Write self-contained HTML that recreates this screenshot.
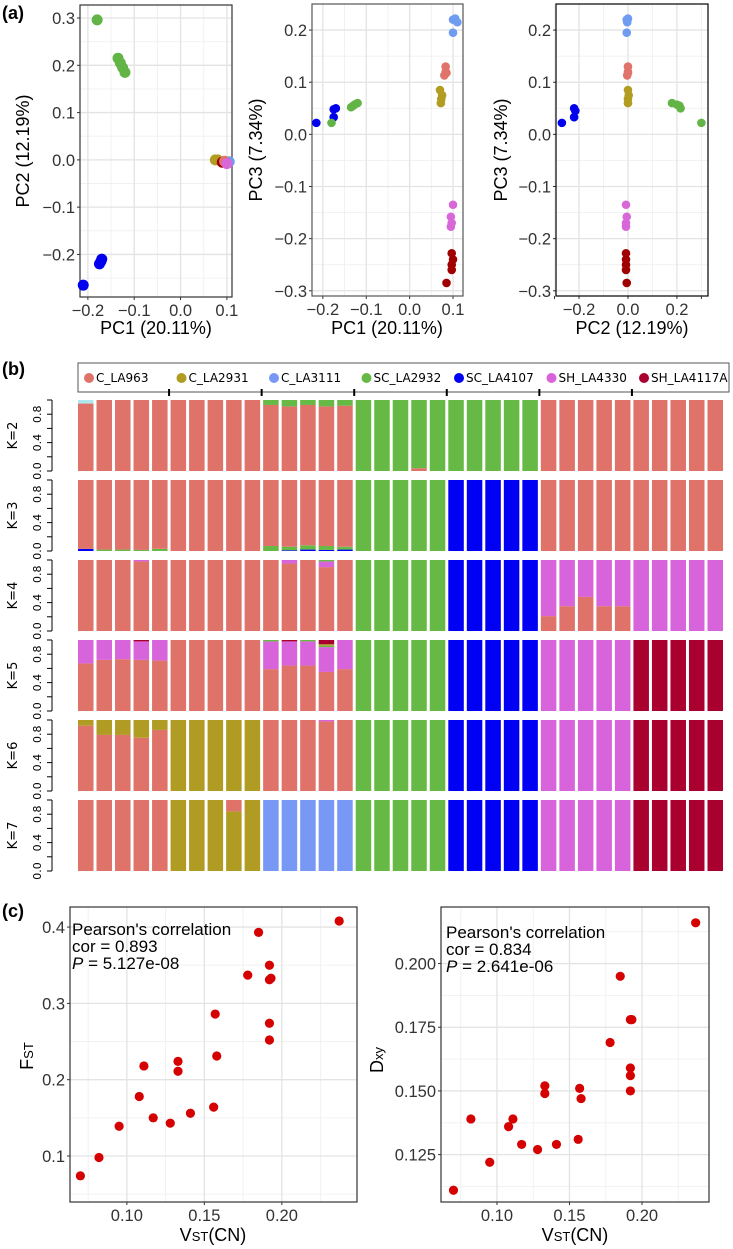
<!DOCTYPE html>
<html><head><meta charset="utf-8"><style>
html,body{margin:0;padding:0;background:#fff;}
svg{display:block;font-family:"Liberation Sans",sans-serif;}
</style></head><body>
<svg id="fig" width="733" height="1249" viewBox="0 0 733 1249" xmlns="http://www.w3.org/2000/svg"></svg>
<script>
// ---------- Panel (a) PCA data ----------
const pcaGroups = ["C_LA963","C_LA2931","C_LA3111","SC_LA2932","SC_LA4107","SH_LA4330","SH_LA4117A"];
const pc1_pc2_green = [[-0.18,0.296],[-0.135,0.215],[-0.13,0.205],[-0.125,0.195],[-0.12,0.185]];
const pc1_pc2_blue = [[-0.21,-0.265],[-0.17,-0.21],[-0.172,-0.215],[-0.175,-0.22]];
const pc1_pc2_cluster = [[0.075,0.0,1],[0.08,0.0,1],[0.09,-0.005,6],[0.105,-0.004,2],[0.095,-0.003,0],[0.1,-0.008,5]];
const pc1_pc3 = [
 [-0.215,0.022,4],[-0.175,0.048,4],[-0.17,0.05,4],[-0.175,0.033,4],
 [-0.18,0.022,3],[-0.135,0.052,3],[-0.13,0.055,3],[-0.125,0.058,3],[-0.12,0.06,3],
 [0.1,0.22,2],[0.105,0.222,2],[0.11,0.215,2],[0.1,0.195,2],
 [0.083,0.13,0],[0.083,0.12,0],[0.08,0.113,0],[0.085,0.118,0],
 [0.07,0.085,1],[0.075,0.075,1],[0.073,0.068,1],[0.072,0.06,1],
 [0.1,-0.135,5],[0.095,-0.158,5],[0.097,-0.17,5],[0.095,-0.177,5],
 [0.097,-0.228,6],[0.1,-0.24,6],[0.097,-0.25,6],[0.097,-0.26,6],[0.085,-0.285,6]];
const pc2_pc3 = [
 [-0.27,0.022,4],[-0.22,0.05,4],[-0.215,0.045,4],[-0.22,0.033,4],
 [0.18,0.06,3],[0.2,0.057,3],[0.21,0.055,3],[0.215,0.05,3],[0.3,0.022,3],
 [-0.005,0.22,2],[0.0,0.222,2],[-0.003,0.215,2],[-0.005,0.195,2],
 [0.0,0.13,0],[0.0,0.12,0],[-0.003,0.113,0],[0.0,0.118,0],
 [0.0,0.085,1],[0.003,0.075,1],[0.0,0.068,1],[0.0,0.06,1],
 [-0.008,-0.135,5],[-0.005,-0.158,5],[-0.008,-0.17,5],[-0.008,-0.177,5],
 [-0.008,-0.228,6],[-0.008,-0.24,6],[-0.008,-0.25,6],[-0.008,-0.26,6],[-0.005,-0.285,6]];
const pcaColors = ["#E0736A","#B39C22","#6F9BF0","#63B446","#0000EE","#D868D8","#A00000"];

// ---------- Panel (b) admixture data ----------
const kLabels = ["K=2","K=3","K=4","K=5","K=6","K=7"];
const clusterColors = ["#DF736A","#B09B23","#7799F5","#67B945","#0000F5","#D864DC","#AA0030","#AEE8EE"];
const kDominant = [[0,0,0,3,3,0,0],[0,0,0,3,4,0,0],[0,0,0,3,4,5,5],[0,0,0,3,4,5,6],[0,1,0,3,4,5,6],[0,1,2,3,4,5,6]];
const kExceptions = [
 [0,0,[[0,0.95],[7,0.05]]],
 [0,10,[[0,0.93],[3,0.07]]],[0,11,[[0,0.91],[3,0.09]]],[0,12,[[0,0.93],[3,0.07]]],[0,13,[[0,0.91],[3,0.09]]],[0,14,[[0,0.92],[3,0.08]]],
 [0,18,[[0,0.04],[3,0.96]]],
 [1,0,[[4,0.03],[0,0.97]]],[1,1,[[3,0.02],[0,0.98]]],[1,2,[[3,0.02],[0,0.98]]],[1,3,[[3,0.015],[0,0.985]]],[1,4,[[3,0.03],[0,0.97]]],
 [1,10,[[3,0.07],[0,0.93]]],[1,11,[[4,0.01],[3,0.05],[0,0.94]]],[1,12,[[4,0.02],[3,0.06],[0,0.92]]],[1,13,[[4,0.015],[3,0.055],[0,0.93]]],[1,14,[[4,0.02],[3,0.04],[0,0.94]]],
 [2,3,[[0,0.98],[5,0.02]]],[2,11,[[0,0.95],[5,0.05]]],[2,13,[[0,0.9],[5,0.08],[3,0.02]]],
 [2,25,[[0,0.21],[5,0.79]]],[2,26,[[0,0.35],[5,0.65]]],[2,27,[[0,0.48],[5,0.52]]],[2,28,[[0,0.35],[5,0.65]]],[2,29,[[0,0.35],[5,0.65]]],
 [3,0,[[0,0.67],[5,0.33]]],[3,1,[[0,0.72],[5,0.28]]],[3,2,[[0,0.73],[5,0.27]]],[3,3,[[0,0.72],[5,0.26],[6,0.02]]],[3,4,[[0,0.71],[5,0.29]]],
 [3,10,[[0,0.59],[5,0.39],[3,0.02]]],[3,11,[[0,0.64],[5,0.34],[6,0.02]]],[3,12,[[0,0.64],[5,0.34],[3,0.02]]],[3,13,[[0,0.55],[5,0.35],[3,0.02],[1,0.02],[6,0.06]]],[3,14,[[0,0.59],[5,0.41]]],
 [4,0,[[0,0.92],[1,0.08]]],[4,1,[[0,0.79],[1,0.21]]],[4,2,[[0,0.79],[1,0.21]]],[4,3,[[0,0.75],[1,0.25]]],[4,4,[[0,0.86],[1,0.14]]],
 [4,13,[[0,0.98],[5,0.02]]],
 [5,8,[[1,0.84],[0,0.16]]]
];
const legendNames = ["C_LA963","C_LA2931","C_LA3111","SC_LA2932","SC_LA4107","SH_LA4330","SH_LA4117A"];

// ---------- Panel (c) data ----------
const vst = [0.070,0.082,0.095,0.108,0.111,0.117,0.128,0.133,0.133,0.141,0.156,0.157,0.158,0.178,0.185,0.192,0.192,0.193,0.192,0.192,0.237];
const fst = [0.074,0.098,0.139,0.178,0.218,0.150,0.143,0.224,0.211,0.156,0.164,0.286,0.231,0.337,0.393,0.350,0.331,0.333,0.274,0.252,0.408];
const vst2 = [0.070,0.082,0.095,0.108,0.111,0.117,0.128,0.133,0.133,0.141,0.156,0.157,0.158,0.178,0.185,0.192,0.193,0.192,0.192,0.192,0.237];
const dxy = [0.111,0.139,0.122,0.136,0.139,0.129,0.127,0.152,0.149,0.129,0.131,0.151,0.147,0.169,0.195,0.178,0.178,0.159,0.156,0.150,0.216];
const fstTicks = [0.1,0.2,0.3,0.4];
const dxyTicks = [0.125,0.150,0.175,0.200];
const vstTicks = [0.10,0.15,0.20];

const NS="http://www.w3.org/2000/svg";
const svg=document.getElementById('fig');
const TICK=16.5, TITLE=18;
function mk(tag,attrs,parent,txt){const e=document.createElementNS(NS,tag);for(const k in attrs)e.setAttribute(k,attrs[k]);if(txt!==undefined)e.textContent=txt;(parent||svg).appendChild(e);return e;}
function lin(d0,d1,r0,r1){return v=>r0+(v-d0)*(r1-r0)/(d1-d0);}

function scatterPanel(name,box,xd,yd,xticks,yticks,xminor,yminor,fmtX,fmtY,border){
  const g=mk('g',{});
  
  
  const sx=lin(xd[0],xd[1],box.x0,box.x1), sy=lin(yd[0],yd[1],box.y1,box.y0);
  mk('rect',{x:box.x0,y:box.y0,width:box.x1-box.x0,height:box.y1-box.y0,fill:'#fff'},g);
  xminor.forEach(v=>mk('line',{x1:sx(v),x2:sx(v),y1:box.y0,y2:box.y1,stroke:'#f0f0f0','stroke-width':0.9},g));
  yminor.forEach(v=>mk('line',{y1:sy(v),y2:sy(v),x1:box.x0,x2:box.x1,stroke:'#f0f0f0','stroke-width':0.9},g));
  xticks.forEach(v=>{const gl=mk('line',{x1:sx(v),x2:sx(v),y1:box.y0,y2:box.y1,stroke:'#e3e3e3','stroke-width':1.3},g);
    
    mk('line',{x1:sx(v),x2:sx(v),y1:box.y1,y2:box.y1+3,stroke:'#333'},g);
    const t=mk('text',{x:sx(v),y:box.y1+19,'text-anchor':'middle','font-size':TICK,fill:'#333'},g,fmtX(v));
    });
  yticks.forEach(v=>{const gl=mk('line',{y1:sy(v),y2:sy(v),x1:box.x0,x2:box.x1,stroke:'#e3e3e3','stroke-width':1.3},g);
    
    mk('line',{y1:sy(v),y2:sy(v),x1:box.x0-3,x2:box.x0,stroke:'#333'},g);
    const t=mk('text',{x:box.x0-5,y:sy(v)+6,'text-anchor':'end','font-size':TICK,fill:'#333'},g,fmtY(v));
    });
  mk('rect',{x:box.x0,y:box.y0,width:box.x1-box.x0,height:box.y1-box.y0,fill:'none',stroke:border||'#333','stroke-width':1.2},g);
  return {g,sx,sy};
}
function fmtPC(v){const s=Math.abs(v).toFixed(1);return (v<-1e-9?'\u2212':'')+s;}
function range(a,b,s){const r=[];for(let v=a;v<=b+1e-9;v+=s)r.push(+v.toFixed(4));return r;}

let t=mk('text',{x:2,y:19,'font-size':18,'font-weight':'bold',fill:'#000'},svg,'(a)');


// a1
let p=scatterPanel('pca-pc1-pc2',{x0:80,x1:232,y0:5,y1:297},[-0.217,0.111],[-0.29,0.3275],
  [-0.2,-0.1,0,0.1],[-0.2,-0.1,0,0.1,0.2,0.3],range(-0.15,0.05,0.1),range(-0.25,0.25,0.1),fmtPC,fmtPC);
pc1_pc2_green.forEach(d=>{const c=mk('circle',{cx:p.sx(d[0]),cy:p.sy(d[1]),r:5.5,fill:pcaColors[3]},p.g);});
pc1_pc2_blue.forEach(d=>{const c=mk('circle',{cx:p.sx(d[0]),cy:p.sy(d[1]),r:5.5,fill:pcaColors[4]},p.g);});
pc1_pc2_cluster.forEach(d=>{const c=mk('circle',{cx:p.sx(d[0]),cy:p.sy(d[1]),r:5.5,fill:pcaColors[d[2]]},p.g);});
t=mk('text',{x:156,y:334,'text-anchor':'middle','font-size':TITLE,fill:'#000'},svg,'PC1 (20.11%)');
t=mk('text',{x:0,y:0,'text-anchor':'middle','font-size':TITLE,fill:'#000',transform:'translate(29,151) rotate(-90)'},svg,'PC2 (12.19%)');

// a2
p=scatterPanel('pca-pc1-pc3',{x0:312,x1:463,y0:4,y1:296},[-0.225,0.123],[-0.31,0.25],
  [-0.2,-0.1,0,0.1],[-0.3,-0.2,-0.1,0,0.1,0.2],range(-0.15,0.05,0.1),range(-0.25,0.15,0.1),fmtPC,fmtPC,'#555');
pc1_pc3.forEach(d=>{const c=mk('circle',{cx:p.sx(d[0]),cy:p.sy(d[1]),r:4.3,fill:pcaColors[d[2]]},p.g);});
t=mk('text',{x:387,y:334,'text-anchor':'middle','font-size':TITLE,fill:'#000'},svg,'PC1 (20.11%)');
t=mk('text',{x:0,y:0,'text-anchor':'middle','font-size':TITLE,fill:'#000',transform:'translate(262,150) rotate(-90)'},svg,'PC3 (7.34%)');

// a3
p=scatterPanel('pca-pc2-pc3',{x0:556,x1:708,y0:4,y1:296},[-0.294,0.327],[-0.31,0.25],
  [-0.2,0,0.2],[-0.3,-0.2,-0.1,0,0.1,0.2],range(-0.3,0.3,0.1).filter(v=>Math.abs(Math.round(v*10)%2)===1),range(-0.25,0.15,0.1),fmtPC,fmtPC,'#000');
mk('line',{x1:p.sx(-0.3),x2:p.sx(-0.3),y1:296,y2:299,stroke:'#333'},p.g);
mk('line',{x1:p.sx(0.3),x2:p.sx(0.3),y1:296,y2:299,stroke:'#333'},p.g);
pc2_pc3.forEach(d=>{const c=mk('circle',{cx:p.sx(d[0]),cy:p.sy(d[1]),r:4.3,fill:pcaColors[d[2]]},p.g);});
t=mk('text',{x:632,y:334,'text-anchor':'middle','font-size':TITLE,fill:'#000'},svg,'PC2 (12.19%)');
t=mk('text',{x:0,y:0,'text-anchor':'middle','font-size':TITLE,fill:'#000',transform:'translate(507,150) rotate(-90)'},svg,'PC3 (7.34%)');

// ---------- (b) ----------
t=mk('text',{x:2,y:375,'font-size':18,'font-weight':'bold',fill:'#000'},svg,'(b)');

const bx0=78,bx1=726,nBars=35,pitch=(bx1-bx0)/nBars,bw=pitch-3,rowTop=400,rowH=71,rowStep=80;
const leg=mk('g',{});
mk('rect',{x:78,y:363,width:651,height:29,fill:'#fff',stroke:'#555','stroke-width':1},leg);
legendNames.forEach((n,i)=>{const cx=89+i*92.5;
  const c=mk('circle',{cx:cx,cy:378,r:5,fill:clusterColors[i]},leg);
  
  const tt=mk('text',{x:cx+7,y:382,'font-size':12,fill:'#000','font-family':'"DejaVu Sans",sans-serif'},leg,n);
  
  if(i>0){mk('line',{x1:bx0+pitch*5*i-1.5,x2:bx0+pitch*5*i-1.5,y1:389,y2:396,stroke:'#000','stroke-width':2},leg);}
});
kLabels.forEach((kl,ki)=>{
  const y0=rowTop+ki*rowStep, sy=lin(0,1,y0+rowH,y0);
  const rg=mk('g',{});
  mk('line',{x1:52,x2:52,y1:sy(0),y2:sy(1),stroke:'#000','stroke-width':1},rg);
  [0,0.2,0.4,0.6,0.8,1.0].forEach(v=>mk('line',{x1:47,x2:52,y1:sy(v),y2:sy(v),stroke:'#000','stroke-width':1},rg));
  [0,0.4,0.8].forEach(v=>{const tt=mk('text',{x:0,y:0,'text-anchor':'middle','font-size':11,fill:'#000','font-family':'"DejaVu Sans",sans-serif',transform:`translate(41,${sy(v)}) rotate(-90)`},rg,v.toFixed(1));});
  const kt=mk('text',{x:0,y:0,'text-anchor':'middle','font-size':13,fill:'#000','font-family':'"DejaVu Sans",sans-serif',transform:`translate(17,${y0+rowH/2}) rotate(-90)`},rg,kl);
  
  for(let b=0;b<nBars;b++){
    let segs=[[kDominant[ki][Math.floor(b/5)],1]];
    kExceptions.forEach(e=>{if(e[0]===ki&&e[1]===b)segs=e[2];});
    let acc=0;const x=bx0+b*pitch;
    segs.forEach(s=>{const r=mk('rect',{x:x,y:sy(acc+s[1]),width:bw,height:sy(acc)-sy(acc+s[1]),fill:clusterColors[s[0]]},rg);
      acc+=s[1];});
  }
});

// ---------- (c) ----------
t=mk('text',{x:2,y:917,'font-size':18,'font-weight':'bold',fill:'#000'},svg,'(c)');

function f2(v){return v.toFixed(2);} function f1(v){return v.toFixed(1);} function f3(v){return v.toFixed(3);}
p=scatterPanel('fst-vs-vst',{x0:70,x1:357,y0:907,y1:1202},[0.0633,0.2485],[0.0397,0.4263],
  vstTicks,fstTicks,[0.075,0.125,0.175,0.225],[0.05,0.15,0.25,0.35],f2,f1);
vst.forEach((v,i)=>{const c=mk('circle',{cx:p.sx(v),cy:p.sy(fst[i]),r:4.6,fill:'#D50000'},p.g);});
[['Pearson\'s  correlation',935],['cor = 0.893',952]].forEach(a=>{mk('text',{x:72,y:a[1],'font-size':17,fill:'#000'},svg,a[0]);});
t=mk('text',{x:72,y:969,'font-size':17,fill:'#000'},svg);t.innerHTML='<tspan font-style="italic">P</tspan> = 5.127e-08';

t=mk('text',{x:213,y:1241,'text-anchor':'middle','font-size':TITLE,fill:'#000'},svg);t.innerHTML='V<tspan font-size="13">ST</tspan>(CN)';

t=mk('text',{x:0,y:0,'text-anchor':'middle','font-size':TITLE,fill:'#000',transform:'translate(33,1056) rotate(-90)'},svg);t.innerHTML='F<tspan font-size="13">ST</tspan>';

p=scatterPanel('dxy-vs-vst',{x0:441,x1:709,y0:907,y1:1202},[0.0614,0.2462],[0.1064,0.2222],
  vstTicks,dxyTicks,[0.075,0.125,0.175,0.225],[0.1125,0.1375,0.1625,0.1875,0.2125],f2,f3);
vst2.forEach((v,i)=>{const c=mk('circle',{cx:p.sx(v),cy:p.sy(dxy[i]),r:4.6,fill:'#D50000'},p.g);});
[['Pearson\'s correlation',938],['cor = 0.834',955]].forEach(a=>{mk('text',{x:446,y:a[1],'font-size':17,fill:'#000'},svg,a[0]);});
t=mk('text',{x:446,y:972,'font-size':17,fill:'#000'},svg);t.innerHTML='<tspan font-style="italic">P</tspan> = 2.641e-06';

t=mk('text',{x:575,y:1241,'text-anchor':'middle','font-size':TITLE,fill:'#000'},svg);t.innerHTML='V<tspan font-size="13">ST</tspan>(CN)';

t=mk('text',{x:0,y:0,'text-anchor':'middle','font-size':TITLE,fill:'#000',transform:'translate(383,1060) rotate(-90)'},svg);t.innerHTML='D<tspan font-size="13">xy</tspan>';

</script>
</body></html>
